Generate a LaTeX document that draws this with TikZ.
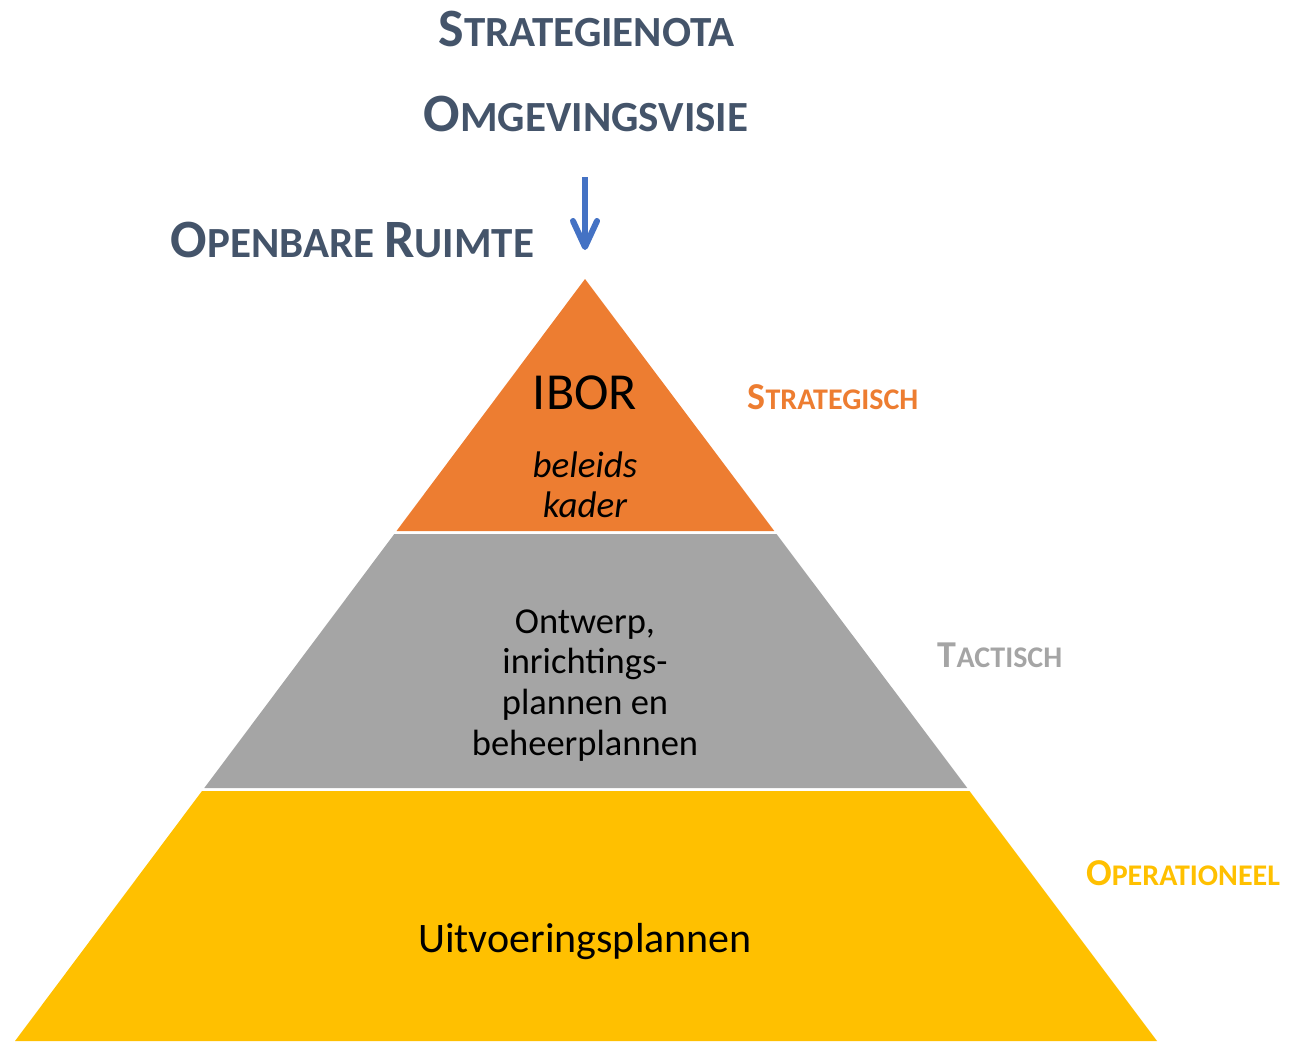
\documentclass[tikz,border=0pt]{standalone}
\usepackage{fontspec}
\setmainfont{Carlito}
\usetikzlibrary{arrows.meta}
\definecolor{titleblue}{HTML}{44546A}
\definecolor{pOrange}{HTML}{ED7D31}
\definecolor{pGray}{HTML}{A5A5A5}
\definecolor{pYellow}{HTML}{FFC000}
\definecolor{arrowblue}{HTML}{4472C4}
\newcommand\fsz[1]{\fontsize{#1}{#1}\selectfont}
\newcommand\tsc[2]{{\fsz{54}#1}{\fsz{43}#2}}
\newcommand\lsc[2]{{\fsz{38}#1}{\fsz{30}#2}}
\begin{document}
\begin{tikzpicture}[x=1pt,y=-1pt,
  txt/.style={inner sep=0pt, anchor=base},
  titletxt/.style={txt, text=titleblue, font=\bfseries\fsz{43}},
  sidetxt/.style={txt, font=\bfseries\fsz{30}},
  layertxt/.style={txt, text=black, align=center},
  arrowline/.style={draw=arrowblue, line width=6pt, -{Straight Barb[length=26pt,width=24pt,round]}}
]
\useasboundingbox (0,0) rectangle (1295,1041);
% pyramid layers
\fill[pOrange] (585,279) -- (396.5,531) -- (774.3,531) -- cycle;
\fill[pGray] (394.3,534) -- (776.5,534) -- (967.3,788) -- (204.3,788) -- cycle;
\fill[pYellow] (202.0,791) -- (969.5,791) -- (1157,1041) -- (15,1041) -- cycle;
% titles
\node[titletxt] (strategienota) at (586.5,47) {\tsc{S}{TRATEGIENOTA}};
\node[titletxt] (omgevingsvisie) at (586,131) {\tsc{O}{MGEVINGSVISIE}};
\node[titletxt] (openbare) at (352.5,257) {\tsc{O}{PENBARE} \tsc{R}{UIMTE}};
% arrow
\coordinate (arrtop) at (585,177);
\coordinate (arrtip) at (585,250);
\draw[arrowline] (arrtop) -- (arrtip);
% layer texts
\node[layertxt, font=\fsz{52}] (ibor) at (585,409) {IBOR};
\node[layertxt, font=\itshape\fsz{37}] (beleids) at (585,477) {beleids};
\node[layertxt, font=\itshape\fsz{37}] (kader) at (585,517) {kader};
\node[layertxt, font=\fsz{36.5}] (m1) at (585,633) {Ontwerp,};
\node[layertxt, font=\fsz{36.5}] (m2) at (585,673) {inrichtings-};
\node[layertxt, font=\fsz{36.5}] (m3) at (585,714) {plannen en};
\node[layertxt, font=\fsz{36.5}] (m4) at (585,755) {beheerplannen};
\node[layertxt, font=\fsz{42}] (uitv) at (585,952) {Uitvoeringsplannen};
% side labels
\node[sidetxt, text=pOrange] (strategisch) at (833,409) {\lsc{S}{TRATEGISCH}};
\node[sidetxt, text=pGray] (tactisch) at (1000,667) {\lsc{T}{ACTISCH}};
\node[sidetxt, text=pYellow] (operationeel) at (1183,885) {\lsc{O}{PERATIONEEL}};
\end{tikzpicture}
\end{document}
